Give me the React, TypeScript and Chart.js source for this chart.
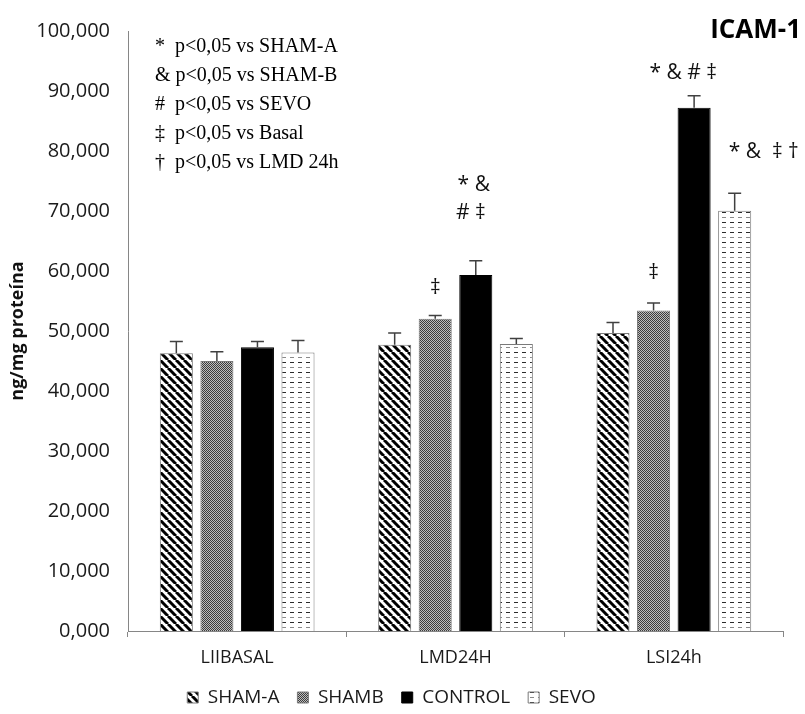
import React, { useEffect, useRef } from 'react';
import { Chart, registerables } from 'chart.js';

Chart.register(...registerables);

// ---- data ----
const categories = ['LIIBASAL', 'LMD24H', 'LSI24h'];
const seriesNames = ['SHAM-A', 'SHAMB', 'CONTROL', 'SEVO'];
const shamA = [46300, 47700, 49650];
const shamB = [45000, 52050, 53400];
const control = [47300, 59350, 87200];
const sevo = [46400, 47850, 70050];
const shamAErr = [1950, 1950, 1750];
const shamBErr = [1550, 550, 1250];
const controlErr = [950, 2350, 2000];
const sevoErr = [2000, 900, 2900];
const yMin = 0;
const yMax = 100000;
const yStep = 10000;
const chartTitle = 'ICAM-1';
const yTitle = 'ng/mg proteína';
const noteLines = [
  '*  p<0,05 vs SHAM-A',
  '& p<0,05 vs SHAM-B',
  '#  p<0,05 vs SEVO',
  '‡  p<0,05 vs Basal',
  '†  p<0,05 vs LMD 24h',
];
// significance marks: series index, category index, value height, text
const markSeries = [1, 2, 2, 1, 2, 3];
const markCategory = [1, 1, 1, 2, 2, 2];
const markValue = [57200, 74350, 69700, 59700, 93000, 79850];
const markText = ['‡', '* &', '# ‡', '‡', '* & # ‡', '* &  ‡ †'];

// ---- style ----
const markShift = [0, -2, -5, 0, -11, 29];
const SANS = '"Open Sans", "Noto Sans", sans-serif';
const SERIF = '"Liberation Serif", "DejaVu Serif", serif';

function makePattern(kind: string): CanvasPattern | string {
  const c = document.createElement('canvas');
  const g = c.getContext('2d')!;
  if (kind === 'stripes') {
    c.width = 8; c.height = 8;
    g.fillStyle = '#fff'; g.fillRect(0, 0, 8, 8);
    g.strokeStyle = '#000'; g.lineWidth = 3;
    for (const k of [-8, 0, 8]) {
      g.beginPath(); g.moveTo(k, 0); g.lineTo(k + 8, 8); g.stroke();
    }
  } else if (kind === 'checker') {
    c.width = 2; c.height = 2;
    g.fillStyle = '#bdbdbd'; g.fillRect(0, 0, 2, 2);
    g.fillStyle = '#3c3c3c'; g.fillRect(0, 0, 1, 1); g.fillRect(1, 1, 1, 1);
  } else if (kind === 'dashes') {
    c.width = 8; c.height = 10;
    g.fillStyle = '#fff'; g.fillRect(0, 0, 8, 10);
    g.fillStyle = '#2a2a2a'; g.fillRect(2, 2, 4, 1);
    g.fillStyle = '#8a8a8a'; g.fillRect(2, 7, 4, 1);
  }
  return g.createPattern(c, 'repeat')!;
}

export default function App() {
  const ref = useRef<HTMLCanvasElement>(null);
  useEffect(() => {
    const canvas = ref.current!;
    const fills = [makePattern('stripes'), makePattern('checker'), '#000000', makePattern('dashes')];
    const values = [shamA, shamB, control, sevo];
    const errs = [shamAErr, shamBErr, controlErr, sevoErr];

    const errorBars = {
      id: 'errorBars',
      afterDatasetsDraw(chart: any) {
        const { ctx } = chart;
        const ys = chart.scales.y;
        ctx.save();
        ctx.strokeStyle = '#404040';
        ctx.lineWidth = 1.5;
        values.forEach((vals, di) => {
          const meta = chart.getDatasetMeta(di);
          meta.data.forEach((bar: any, ci: number) => {
            const top = ys.getPixelForValue(vals[ci] + errs[di][ci]);
            ctx.beginPath();
            ctx.moveTo(bar.x, bar.y);
            ctx.lineTo(bar.x, top);
            ctx.moveTo(bar.x - 6.5, top);
            ctx.lineTo(bar.x + 6.5, top);
            ctx.stroke();
          });
        });
        ctx.restore();
      },
    };

    const texts = {
      id: 'texts',
      afterDraw(chart: any) {
        const { ctx } = chart;
        const ys = chart.scales.y;
        ctx.save();
        // significance marks
        ctx.fillStyle = '#111';
        ctx.font = `21px ${SANS}`;
        ctx.textAlign = 'center';
        ctx.textBaseline = 'middle';
        markText.forEach((t, i) => {
          const bar = chart.getDatasetMeta(markSeries[i]).data[markCategory[i]];
          ctx.fillText(t, bar.x + markShift[i], ys.getPixelForValue(markValue[i]));
        });
        // title
        ctx.font = `bold 26px ${SANS}`;
        ctx.textAlign = 'right';
        ctx.fillStyle = '#000';
        ctx.fillText(chartTitle, 801, 31);
        // notes
        ctx.font = `20px ${SERIF}`;
        ctx.textAlign = 'left';
        noteLines.forEach((t, i) => {
          ctx.fillText(t, 155, 47 + i * 29);
        });
        ctx.restore();
      },
    };

    const chart = new Chart(canvas, {
      type: 'bar',
      data: {
        labels: categories,
        datasets: seriesNames.map((name, i) => ({
          label: name,
          data: values[i],
          backgroundColor: fills[i] as any,
          borderColor: i === 2 ? '#000' : '#7a7a7a',
          borderWidth: 1,
          categoryPercentage: 0.743,
          barPercentage: 0.815,
        })),
      },
      options: {
        responsive: false,
        animation: false,
        devicePixelRatio: 1,
        layout: { padding: { top: 31, right: 22, left: 0, bottom: -3 } },
        plugins: {
          legend: {
            position: 'bottom',
            labels: {
              boxWidth: 11,
              boxHeight: 11,
              padding: 18,
              color: '#1a1a1a',
              font: { family: SANS, size: 19 },
            },
          },
          tooltip: { enabled: false },
          title: { display: false },
        },
        scales: {
          x: {
            grid: {
              display: true,
              drawOnChartArea: false,
              drawTicks: true,
              tickLength: 6,
              color: '#868686',
            },
            border: { display: true, color: '#868686', width: 1 },
            ticks: { color: '#1a1a1a', font: { family: SANS, size: 18 }, padding: 10 },
            afterFit: (s: any) => { s.height = 39; },
          },
          y: {
            min: yMin,
            max: yMax,
            grid: { display: false, drawTicks: false },
            border: { display: true, color: '#868686', width: 1 },
            ticks: {
              stepSize: yStep,
              color: '#1a1a1a',
              font: { family: SANS, size: 20 },
              padding: 18,
              callback: (v: any) => `${Number(v) / 1000},000`,
            },
            title: {
              display: true,
              text: yTitle,
              color: '#111',
              font: { family: SANS, size: 18, weight: 'bold' },
              padding: { top: 7, bottom: 0 },
            },
            afterFit: (s: any) => { s.width = 128; },
          },
        },
      },
      plugins: [errorBars, texts],
    });
    return () => chart.destroy();
  }, []);
  return (
    <div style={{ position: 'absolute', left: 0, top: 0, width: 805, height: 714, background: '#fff' }}>
      <canvas ref={ref} width={805} height={714} style={{ display: 'block' }} />
    </div>
  );
}
